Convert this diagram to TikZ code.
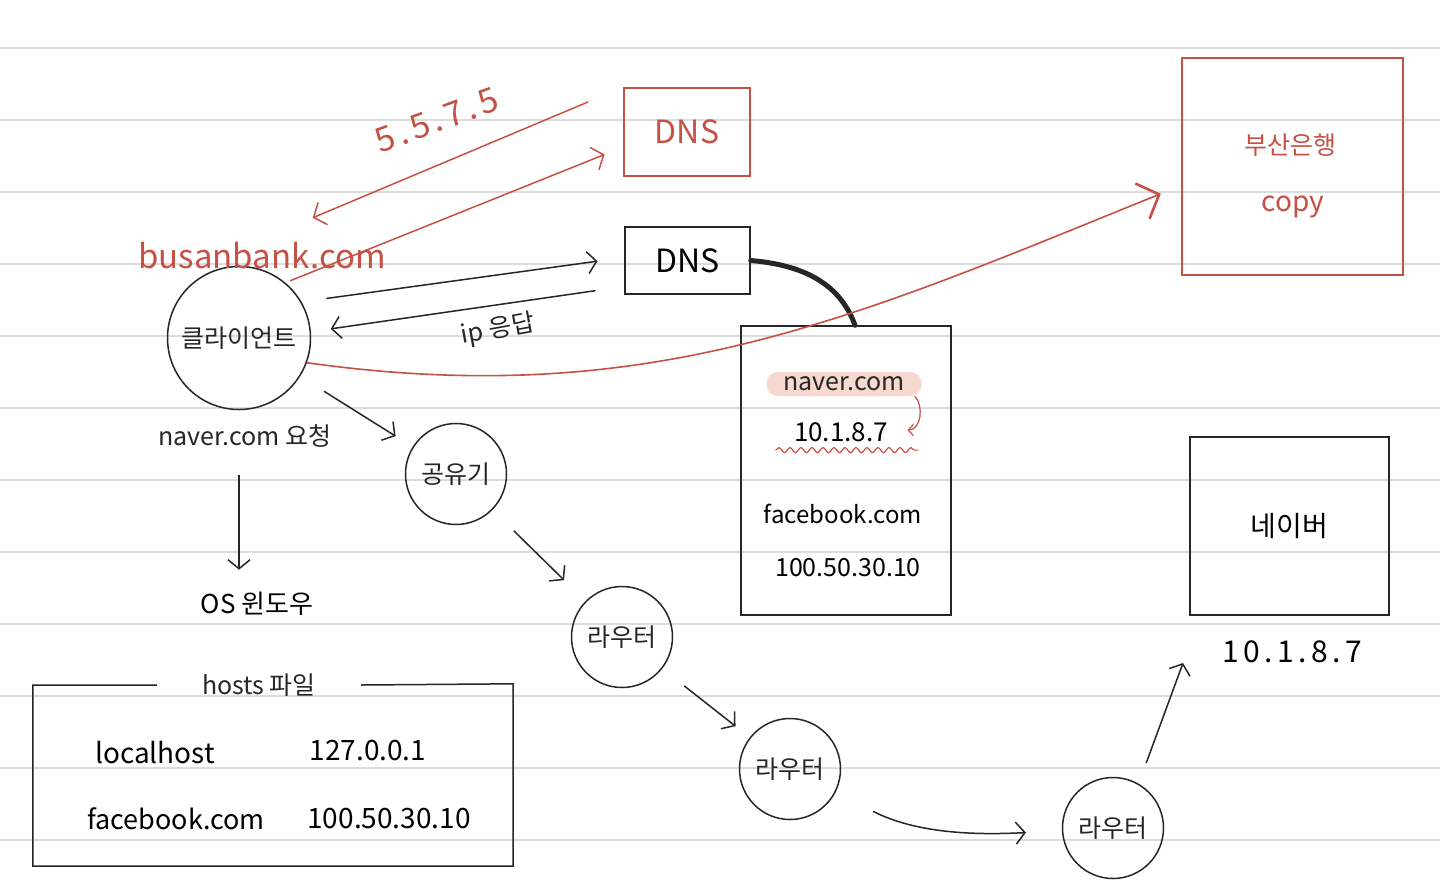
\documentclass[tikz,border=0pt]{standalone}
\usepackage{fontspec}
\setmainfont{Noto Sans CJK KR}
\usepackage{xcolor}
\usepackage{tikz}
\usetikzlibrary{arrows.meta, positioning, calc, decorations.pathmorphing}
\definecolor{penred}{RGB}{197, 80, 68}
\definecolor{penblack}{RGB}{38, 38, 38}
\definecolor{ruleline}{RGB}{220, 220, 220}
\definecolor{markpink}{RGB}{246, 216, 206}

\begin{document}
\begin{tikzpicture}[x=1pt, y=-1pt,
        pen/.style={draw=penblack, line width=1.5pt},
        redpen/.style={draw=penred, line width=1.5pt},
        hand/.style={font=\fontsize{25}{30}\selectfont, text=penblack},
        bighand/.style={font=\fontsize{32}{36}\selectfont},
        hub/.style={circle, pen, minimum size=101pt, inner sep=0pt, hand},
        arr/.style={pen, -{Straight Barb[length=9pt, width=22pt]}},
        redarr/.style={redpen, -{Straight Barb[length=10pt, width=24pt]}}]
        \fill[white] (0,0) rectangle (1440,892);
        \useasboundingbox (0,0) rectangle (1440,892);
        \foreach \y in {48,120,...,840}
            \draw[ruleline, line width=1.5pt] (0,\y) -- (1440,\y);

        \node[draw=penred, line width=1.6pt, minimum width=126pt, minimum height=88pt, text=penred, bighand] (dnsred) at (687,132) {DNS};
        \node[pen, minimum width=125pt, minimum height=67pt, bighand] (dnsblack) at (687.5,260.5) {DNS};
        \node[draw=penred, line width=1.6pt, minimum width=221pt, minimum height=217pt] (bank) at (1292.5,166.5) {};
        \node[hand, text=penred] (bankname) at (1290,145) {부산은행};
        \node[hand, font=\fontsize{28}{32}\selectfont, text=penred] (bankcopy) at (1293,207) {copy};

        \node[circle, pen, minimum size=143pt, inner sep=0pt, hand] (client) at (239,338) {클라이언트};
        \node[font=\fontsize{33}{38}\selectfont, text=penred] (busan) at (262,256) {busanbank.com};
        \node[font=\fontsize{34}{40}\selectfont\addfontfeature{LetterSpace=12}, text=penred, rotate=20] (answer) at (437,120) {5.5.7.5};
        \node[hand, rotate=10] (ipreply) at (498,330) {ip 응답};

        \draw[redarr, shorten <=38pt, shorten >=55pt] (dnsred.north west) -- (busan.north);
        \draw[redarr, shorten <=5pt, shorten >=20pt] (client.50) -- ([yshift=-15pt]dnsred.west);
        \draw[arr, shorten <=25pt, shorten >=27pt] (client.30) -- ([yshift=3pt]dnsblack.west);
        \draw[arr, shorten <=29pt, shorten >=20pt] ([yshift=-26pt]dnsblack.west) -- (client.5);

        \node[pen, minimum width=210pt, minimum height=289pt] (table) at (846,470.5) {};
        \node[hand, fill=markpink, rounded corners=11pt, minimum width=155pt, minimum height=24pt, inner sep=0pt] (tblname) at (844,384) {naver.com};
        \node[font=\fontsize{26}{30}\selectfont] (tblip) at (841,432) {10.1.8.7};
        \node[font=\fontsize{24}{28}\selectfont] (tblfb) at (843,514) {facebook.com};
        \node[font=\fontsize{25}{30}\selectfont] (tblfbip) at (848,568) {100.50.30.10};
        \draw[penred, line width=1.2pt, decorate, decoration={snake, amplitude=2.5pt, segment length=11pt}] ([xshift=-15pt, yshift=-5pt]tblip.south west) -- ([xshift=27pt, yshift=-5pt]tblip.south east);
        \draw[penred, line width=1.2pt, -{Straight Barb[length=5pt, width=11pt]}] ([xshift=-7pt]tblname.south east) to[out=-45, in=0] ([xshift=16pt, yshift=2pt]tblip.east);

        \draw[penblack, line width=5pt, line cap=round] (dnsblack.east) to[out=-5, in=110] ([xshift=9pt]table.north);
        \draw[penred, line width=1.6pt, -{Straight Barb[length=18pt, width=38pt, line width=2.6pt]}, shorten >=22pt] (client.-20) to[out=-8, in=202] ([yshift=-19pt]bank.west);

        \node[hand] (request) at (245,436) {naver.com 요청};
        \node[font=\fontsize{26}{30}\selectfont] (os) at (257,604) {OS 윈도우};
        \draw[arr, shorten <=24pt, shorten >=19pt] (request.south -| client) -- (os.north -| client);

        \node[hand, inner xsep=45pt] (hostsfile) at (259,685) {hosts 파일};
        \node[minimum width=480pt, minimum height=182pt] (hostbox) at (273,775) {};
        \draw[pen] (hostsfile.west) -| (hostbox.south west) -| (hostbox.north east) -- (hostsfile.east);
        \node[font=\fontsize{28}{32}\selectfont] (lhname) at (155,753) {localhost};
        \node[font=\fontsize{28}{32}\selectfont] (lhip) at (368,751) {127.0.0.1};
        \node[font=\fontsize{27}{32}\selectfont] (fbname) at (176,819) {facebook.com};
        \node[font=\fontsize{28}{32}\selectfont] (fbip) at (389,819) {100.50.30.10};

        \node[hub] (share) at (456,474) {공유기};
        \node[hub] (router1) at (622,637) {라우터};
        \node[hub] (router2) at (790,769) {라우터};
        \node[hub] (router3) at (1113,828) {라우터};
        \node[pen, minimum width=199pt, minimum height=178pt, font=\fontsize{28}{32}\selectfont] (naver) at (1289.5,526) {네이버};
        \node[font=\fontsize{30}{34}\selectfont\addfontfeature{LetterSpace=15}] (naverip) at (1292,652) {10.1.8.7};
        \coordinate (naverin) at (1183,663);

        \draw[arr, shorten <=28pt, shorten >=20pt] (client) -- (share);
        \draw[arr, shorten <=30pt, shorten >=30pt] (share) -- (router1);
        \draw[arr, shorten <=28pt, shorten >=18pt] (router1) -- (router2);
        \draw[arr, shorten <=42pt, shorten >=36pt] (router2) to[out=-27, in=183] (router3);
        \draw[arr, shorten <=22pt] (router3.60) -- (naverin);
    \end{tikzpicture}
\end{document}
